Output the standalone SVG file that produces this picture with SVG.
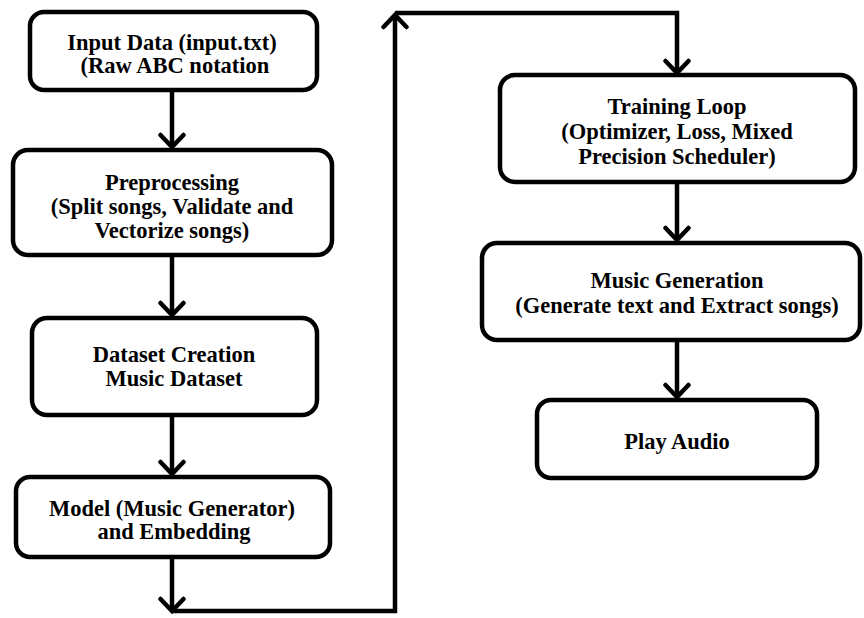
<svg xmlns="http://www.w3.org/2000/svg" width="864" height="618" viewBox="0 0 864 618">
<defs>
<style>
.box{fill:#fff;stroke:#000;stroke-width:4.5}
.t{font-family:"Liberation Serif","DejaVu Serif",serif;font-weight:bold;font-size:22.5px;fill:#000;text-anchor:middle}
.c{fill:none;stroke:#000;stroke-width:4.5;stroke-linejoin:miter}
</style>
<marker id="ah" markerUnits="userSpaceOnUse" markerWidth="30" markerHeight="30" refX="15" refY="15" orient="auto">
<path d="M3,3.5 L15,15 L3,26.5" fill="none" stroke="#000" stroke-width="4.5" stroke-linejoin="miter" stroke-linecap="round"/>
</marker>
</defs>
<rect width="864" height="618" fill="#fff"/>
<g id="connectors">
<line class="c" x1="172" y1="90" x2="172" y2="147" marker-end="url(#ah)"/>
<line class="c" x1="172" y1="255" x2="172" y2="315" marker-end="url(#ah)"/>
<line class="c" x1="172" y1="415" x2="172" y2="474" marker-end="url(#ah)"/>
<line class="c" x1="172" y1="557" x2="172" y2="611" marker-end="url(#ah)"/>
<polyline class="c" points="172,611 395,611 395,15" marker-end="url(#ah)"/>
<polyline class="c" points="395,13 677,13 677,73" marker-end="url(#ah)"/>
<line class="c" x1="677" y1="182" x2="677" y2="240" marker-end="url(#ah)"/>
<line class="c" x1="677" y1="340" x2="677" y2="397" marker-end="url(#ah)"/>
</g>
<g id="input">
<rect class="box" x="30" y="12" width="287" height="78" rx="14"/>
<text class="t" x="172" y="50">Input Data (input.txt)</text>
<text class="t" x="175" y="73">(Raw ABC notation</text>
</g>
<g id="preprocessing">
<rect class="box" x="13" y="150" width="319" height="105" rx="15"/>
<text class="t" x="172" y="190">Preprocessing</text>
<text class="t" x="172" y="214">(Split songs, Validate and</text>
<text class="t" x="172" y="238">Vectorize songs)</text>
</g>
<g id="dataset">
<rect class="box" x="32" y="318" width="285" height="97" rx="15"/>
<text class="t" x="174" y="362">Dataset Creation</text>
<text class="t" x="174" y="386">Music Dataset</text>
</g>
<g id="model">
<rect class="box" x="16" y="477" width="314" height="80" rx="14"/>
<text class="t" x="172" y="516">Model (Music Generator)</text>
<text class="t" x="174" y="539">and Embedding</text>
</g>
<g id="training">
<rect class="box" x="500" y="75" width="355" height="107" rx="15"/>
<text class="t" x="677" y="114">Training Loop</text>
<text class="t" x="677" y="139">(Optimizer, Loss, Mixed</text>
<text class="t" x="677" y="164">Precision Scheduler)</text>
</g>
<g id="generation">
<rect class="box" x="482" y="243" width="378" height="97" rx="15"/>
<text class="t" x="677" y="288">Music Generation</text>
<text class="t" x="677" y="313">(Generate text and Extract songs)</text>
</g>
<g id="play">
<rect class="box" x="537" y="400" width="280" height="78" rx="14"/>
<text class="t" x="677" y="449">Play Audio</text>
</g>
</svg>
